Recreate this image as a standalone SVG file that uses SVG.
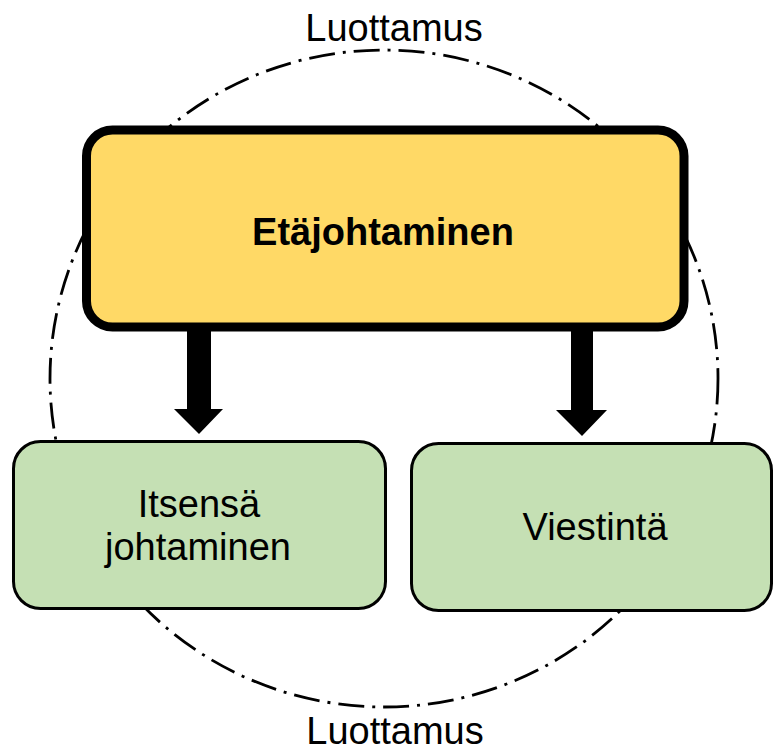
<svg xmlns="http://www.w3.org/2000/svg" width="774" height="752" viewBox="0 0 774 752">
<style>
text{font-family:"Liberation Sans",Arial,sans-serif;font-size:38px;fill:#000;text-anchor:middle}
.bold{font-weight:bold}
.green{fill:#C5E0B4;stroke:#000;stroke-width:3}
.yellow{fill:#FFD966;stroke:#000;stroke-width:9}
.arrow{fill:#000;stroke:none}
</style>
<rect width="774" height="752" fill="#fff"/>
<g id="trust">
<ellipse cx="384" cy="378.5" rx="334" ry="328.5" fill="none" stroke="#000" stroke-width="2.8" stroke-dasharray="26 8 3 8"/>
<text x="394" y="41">Luottamus</text>
<text x="395" y="744">Luottamus</text>
</g>
<g id="etajohtaminen">
<rect class="yellow" x="86.5" y="130" width="597.5" height="197" rx="26"/>
<text class="bold" x="383" y="245">Etäjohtaminen</text>
</g>
<g id="connectors">
<path class="arrow" d="M187,331 H211 V409 H223 L199,434 L174,409 H187 Z"/>
<path class="arrow" d="M571,331 H593 V410 H607 L582,436 L556,410 H571 Z"/>
</g>
<g id="itsensa">
<rect class="green" x="13.5" y="441.5" width="372" height="167" rx="27"/>
<text x="199" y="517">Itsensä</text>
<text x="198" y="560">johtaminen</text>
</g>
<g id="viestinta">
<rect class="green" x="411.5" y="443.5" width="360" height="167" rx="27"/>
<text x="595" y="540">Viestintä</text>
</g>
</svg>
